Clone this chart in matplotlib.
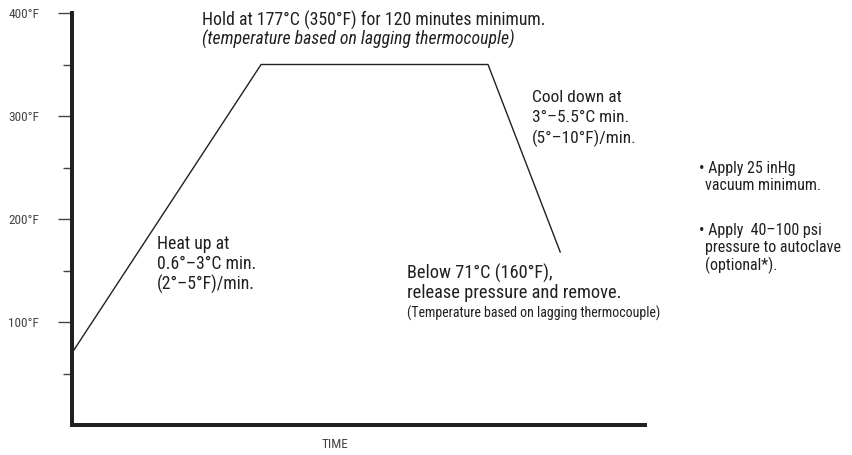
import matplotlib
matplotlib.use("Agg")
import matplotlib.pyplot as plt
from matplotlib import font_manager

names = {f.name for f in font_manager.fontManager.ttflist}
FONT = next((n for n in ["Roboto Condensed", "Archivo Narrow", "Liberation Sans Narrow", "Roboto"]
             if n in names), "DejaVu Sans")
plt.rcParams['font.family'] = [FONT, 'DejaVu Sans']

# Data: cure cycle profile (time in arbitrary units, temperature in °F)
time_pts = [0, 33, 72.6, 85.2]
temp_pts = [70, 350, 350, 168]
major_ticks = [100, 200, 300, 400]
major_labels = ["100°F", "200°F", "300°F", "400°F"]
minor_ticks = [50, 150, 250, 350]

W, H = 852, 455
PT = 72 / 100  # points per pixel
fig = plt.figure(figsize=(W / 100, H / 100), dpi=100)
ax = fig.add_axes([72 / W, (H - 425) / H, (645 - 72) / W, (425 - 13) / H])
ax.set_xlim(0, 100)
ax.set_ylim(0, 400)

TXT = "#231f20"
ax.plot(time_pts, temp_pts, color=TXT, lw=1.0, solid_joinstyle='miter')

for s in ["top", "right"]:
    ax.spines[s].set_visible(False)
for s in ["left", "bottom"]:
    ax.spines[s].set_linewidth(4 * PT)
    ax.spines[s].set_color(TXT)
    ax.spines[s].set_capstyle('projecting')

ax.set_xticks([])
ax.set_yticks(major_ticks)
ax.set_yticklabels(major_labels)
ax.set_yticks(minor_ticks, minor=True)
ax.tick_params(axis='y', which='major', length=14 * PT, width=1.0, color="#444444",
               pad=19 * PT, labelsize=9.5, labelcolor="#444444")
ax.tick_params(axis='y', which='minor', length=9 * PT, width=1.0, color="#444444")

def ft(px, py, s, size=11, **kw):
    fig.text(px / W, 1 - py / H, s, fontsize=size, color=TXT, va='center', ha='left', **kw)

ft(202, 20, "Hold at 177°C (350°F) for 120 minutes minimum.", 12.8)
ft(202, 39, "(temperature based on lagging thermocouple)", 12.8, style='italic')

ft(157, 244, "Heat up at", 12.8)
ft(157, 264, "0.6°–3°C min.", 12.8)
ft(157, 284, "(2°–5°F)/min.", 12.8)

ft(532, 98, "Cool down at", 12.5)
ft(532, 118, "3°–5.5°C min.", 12.5)
ft(532, 138, "(5°–10°F)/min.", 12.5)

ft(407, 273, "Below 71°C (160°F),", 13.2)
ft(407, 293, "release pressure and remove.", 13.2)
ft(407, 313, "(Temperature based on lagging thermocouple)", 10)

ft(699, 169, "• Apply 25 inHg", 11.5)
ft(705, 186, "vacuum minimum.", 11.5)
ft(699, 231, "• Apply  40–100 psi", 11.5)
ft(705, 248, "pressure to autoclave", 11.5)
ft(705, 265, "(optional*).", 11.5)

fig.text(335 / W, 1 - 445 / H, "TIME", fontsize=9.5, color="#444444", ha='center', va='center')

fig.savefig("out.png", dpi=100, facecolor="white")
